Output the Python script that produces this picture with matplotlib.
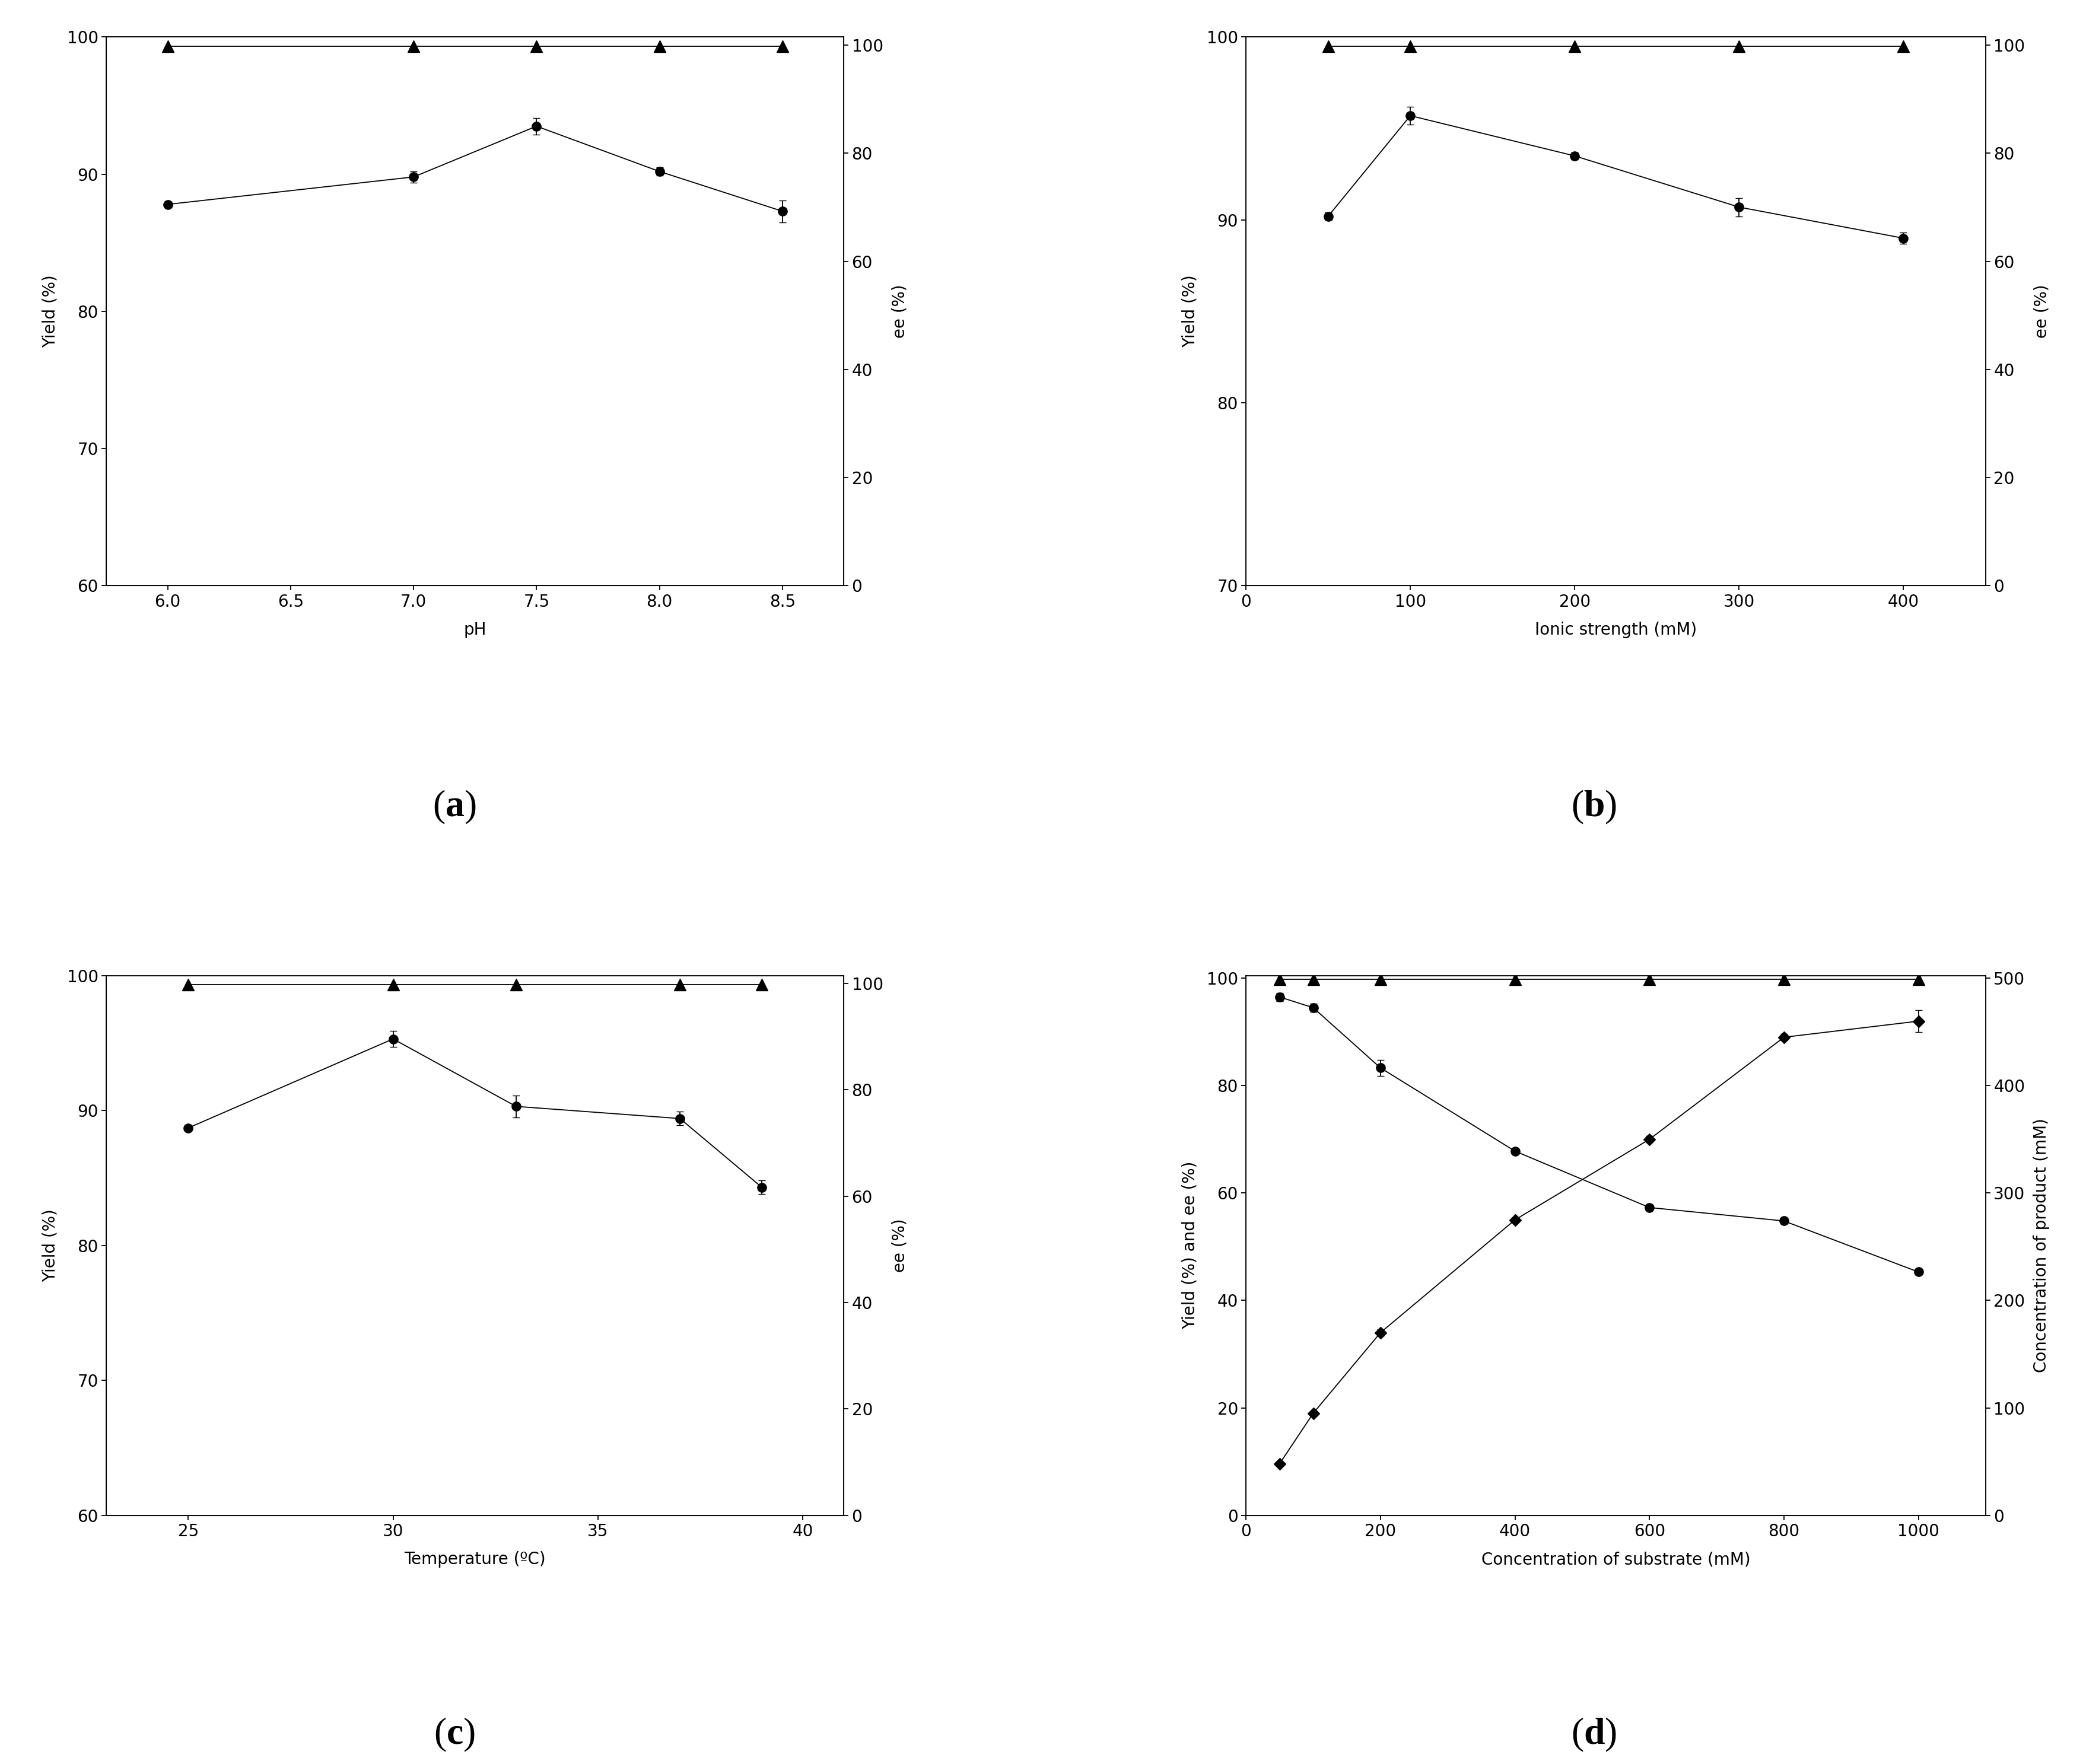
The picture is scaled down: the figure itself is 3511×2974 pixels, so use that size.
import matplotlib as mpl
mpl.use('Agg')
import matplotlib.pyplot as plt

plt.rcParams['font.family'] = 'DejaVu Sans'
plt.rcParams['mathtext.fontset'] = 'custom'
plt.rcParams['mathtext.rm'] = 'Liberation Serif'
plt.rcParams['mathtext.bf'] = 'Liberation Serif:bold'

# (a) pH
ph = [6.0, 7.0, 7.5, 8.0, 8.5]
ph_yield = [87.8, 89.8, 93.5, 90.2, 87.3]
ph_err = [0.2, 0.4, 0.6, 0.3, 0.8]
ph_ee = [99.8, 99.8, 99.8, 99.8, 99.8]

# (b) ionic strength
ion = [50, 100, 200, 300, 400]
ion_yield = [90.2, 95.7, 93.5, 90.7, 89.0]
ion_err = [0.2, 0.5, 0.2, 0.5, 0.3]
ion_ee = [99.8, 99.8, 99.8, 99.8, 99.8]

# (c) temperature
temp = [25, 30, 33, 37, 39]
temp_yield = [88.7, 95.3, 90.3, 89.4, 84.3]
temp_err = [0.2, 0.6, 0.8, 0.5, 0.5]
temp_ee = [99.8, 99.8, 99.8, 99.8, 99.8]

# (d) substrate concentration
sub = [50, 100, 200, 400, 600, 800, 1000]
sub_yield = [96.5, 94.5, 83.3, 67.8, 57.3, 54.8, 45.3]
sub_yerr = [0.8, 0.8, 1.5, 0.5, 0.5, 0.5, 0.5]
sub_ee = [99.8, 99.8, 99.8, 99.8, 99.8, 99.8, 99.8]
sub_prod = [48, 95, 170, 275, 350, 445, 460]
sub_perr = [2, 2, 3, 2, 3, 3, 10]

fs = 20
lw = 1.3
ms = 11

fig = plt.figure(figsize=(35.12, 29.74), dpi=100)

def panel(rect, x, y, yerr, ee, xlim, xticks, ylim, yticks, xlabel, ylabel, rylabel,
          fmt='{:.1f}'):
    ax = fig.add_axes(rect)
    ax.errorbar(x, y, yerr=yerr, color='black', marker='o', ms=ms, lw=lw,
                capsize=4, elinewidth=lw)
    ax.set_xlim(*xlim)
    ax.set_ylim(*ylim)
    ax.set_xticks(xticks)
    ax.set_xticklabels([fmt.format(v) for v in xticks])
    ax.set_yticks(yticks)
    ax.set_xlabel(xlabel, fontsize=fs, labelpad=14)
    ax.set_ylabel(ylabel, fontsize=fs, labelpad=10)
    ax.tick_params(labelsize=fs, width=lw, length=6)
    for s in ax.spines.values():
        s.set_linewidth(lw)
    ax2 = ax.twinx()
    ax2.set_ylim(0, 101.5)
    ax2.set_yticks([0, 20, 40, 60, 80, 100])
    ax2.set_ylabel(rylabel, fontsize=fs, labelpad=10)
    ax2.tick_params(labelsize=fs, width=lw, length=6)
    ax2.plot(x, ee, color='black', marker='^', ms=ms + 3, lw=lw)
    return ax, ax2

panel([0.051, 0.668, 0.354, 0.311], ph, ph_yield, ph_err, ph_ee,
      (5.75, 8.75), [6.0, 6.5, 7.0, 7.5, 8.0, 8.5], (60, 100), [60, 70, 80, 90, 100],
      'pH', 'Yield (%)', 'ee (%)')
panel([0.598, 0.668, 0.355, 0.311], ion, ion_yield, ion_err, ion_ee,
      (0, 450), [0, 100, 200, 300, 400], (70, 100), [70, 80, 90, 100],
      'Ionic strength (mM)', 'Yield (%)', 'ee (%)', fmt='{:.0f}')
panel([0.051, 0.141, 0.354, 0.306], temp, temp_yield, temp_err, temp_ee,
      (23, 41), [25, 30, 35, 40], (60, 100), [60, 70, 80, 90, 100],
      'Temperature (\u00baC)', 'Yield (%)', 'ee (%)', fmt='{:.0f}')

ax = fig.add_axes([0.598, 0.141, 0.355, 0.306])
ax.errorbar(sub, sub_yield, yerr=sub_yerr, color='black', marker='o', ms=ms, lw=lw,
            capsize=4, elinewidth=lw)
ax.plot(sub, sub_ee, color='black', marker='^', ms=ms + 3, lw=lw)
ax.set_xlim(0, 1100)
ax.set_ylim(0, 100.5)
ax.set_xticks([0, 200, 400, 600, 800, 1000])
ax.set_yticks([0, 20, 40, 60, 80, 100])
ax.set_xlabel('Concentration of substrate (mM)', fontsize=fs, labelpad=14)
ax.set_ylabel('Yield (%) and ee (%)', fontsize=fs, labelpad=10)
ax.tick_params(labelsize=fs, width=lw, length=6)
for s in ax.spines.values():
    s.set_linewidth(lw)
ax2 = ax.twinx()
ax2.errorbar(sub, sub_prod, yerr=sub_perr, color='black', marker='D', ms=ms - 1, lw=lw,
             capsize=4, elinewidth=lw)
ax2.set_ylim(0, 502.5)
ax2.set_yticks([0, 100, 200, 300, 400, 500])
ax2.set_ylabel('Concentration of product (mM)', fontsize=fs, labelpad=10)
ax2.tick_params(labelsize=fs, width=lw, length=6)

for lab, x, y in [('a', 0.218, 0.532), ('b', 0.765, 0.532),
                  ('c', 0.218, 0.006), ('d', 0.765, 0.006)]:
    fig.text(x, y, r'$\mathrm{(}\mathbf{' + lab + r'}\mathrm{)}$', fontsize=46,
             ha='center', va='bottom')

plt.savefig('out.png', dpi=100)
plt.close()
